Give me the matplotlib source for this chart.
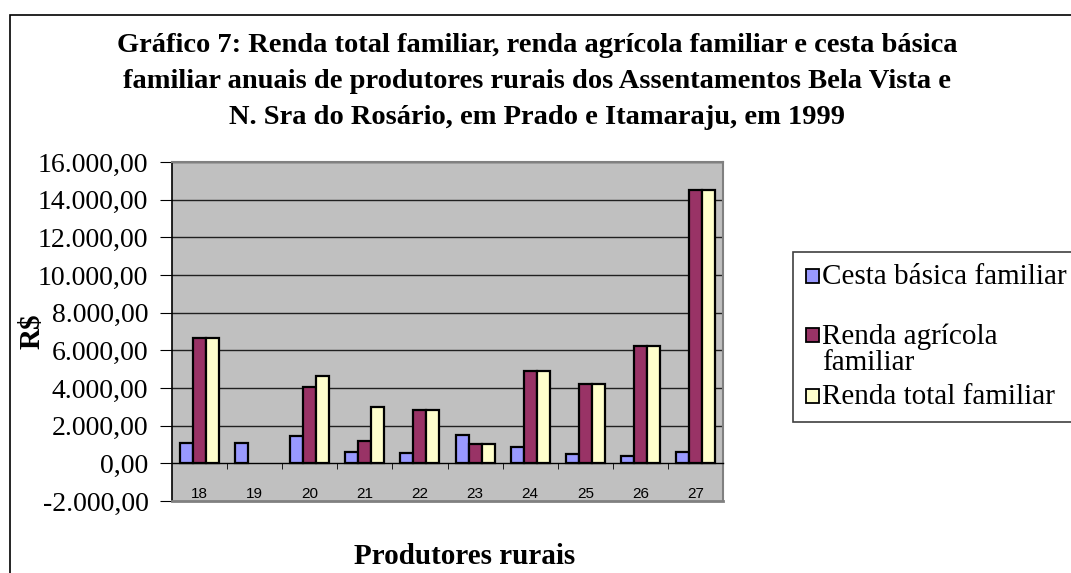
import matplotlib
matplotlib.use("Agg")
import matplotlib.pyplot as plt
from matplotlib.patches import Rectangle
from matplotlib.ticker import FuncFormatter, FixedLocator
import numpy as np

# ── data ────────────────────────────────────────────────────────────────
produtores = ["18", "19", "20", "21", "22", "23", "24", "25", "26", "27"]
cesta_basica = [1060, 1060, 1430, 580, 565, 1520, 850, 495, 390, 620]
# producer 19 has no income values
renda_agricola = [6640, None, 4030, 1180, 2845, 1040, 4890, 4190, 6220, 14520]
renda_total = [6640, None, 4630, 2970, 2845, 1040, 4890, 4190, 6220, 14520]

series_names = ["Cesta básica familiar", "Renda agrícola\nfamiliar", "Renda total familiar"]
series_colors = ["#9999FF", "#993366", "#FFFFCC"]

title_lines = [
    "Gráfico 7: Renda total familiar, renda agrícola familiar e cesta básica",
    "familiar anuais de produtores rurais dos Assentamentos Bela Vista e",
    "N. Sra do Rosário, em Prado e Itamaraju, em 1999",
]

W, H = 1071, 573
SERIF = ["Liberation Serif", "DejaVu Serif"]
SANS = ["Liberation Sans", "DejaVu Sans"]


def px(x, y):
    """pixel (from top-left) -> figure fraction"""
    return x / W, 1 - y / H


def br_fmt(v, _pos):
    s = f"{v:,.2f}"
    return s.replace(",", "X").replace(".", ",").replace("X", ".")


def to_arr(vals):
    return np.array([np.nan if v is None else v for v in vals], dtype=float)


fig = plt.figure(figsize=(W / 100, H / 100), dpi=100)
fig.patch.set_facecolor("white")

# outer chart border (runs off right and bottom edges)
fig.patches.append(Rectangle(px(10, 700), 2, (700 - 15) / H, transform=fig.transFigure,
                             fill=False, edgecolor="black", linewidth=1.2))

l, t, r, b = 172, 162, 723, 501
ax = fig.add_axes([l / W, 1 - b / H, (r - l) / W, (b - t) / H])
ax.set_facecolor("#C0C0C0")

x = np.arange(len(produtores))
bw = 0.236
for k, (vals, col) in enumerate(zip([cesta_basica, renda_agricola, renda_total], series_colors)):
    ax.bar(x + (k - 1) * bw, to_arr(vals), width=bw, color=col, edgecolor="black",
           linewidth=1.6, zorder=3)

ax.set_xlim(-0.5, len(produtores) - 0.5)
ax.set_ylim(-2000, 16000)
ax.yaxis.set_major_locator(FixedLocator(np.arange(-2000, 16001, 2000)))
ax.yaxis.set_major_formatter(FuncFormatter(br_fmt))
for yv in range(2000, 16001, 2000):
    ax.axhline(yv, color="#202020", linewidth=1.0, zorder=1)

# category axis sits at zero
ax.spines["bottom"].set_position(("data", 0))
ax.spines["bottom"].set_color("black")
ax.spines["bottom"].set_linewidth(1.0)
ax.spines["bottom"].set_zorder(4)
ax.spines["left"].set_color("black")
ax.spines["left"].set_linewidth(1.2)
for s in ["top", "right"]:
    ax.spines[s].set_color("#808080")
    ax.spines[s].set_linewidth(1.5)
ax.axhline(-2000, color="#808080", linewidth=2.0, zorder=5, clip_on=False)

ax.set_xticks(x)
ax.set_xticklabels(produtores, fontsize=11, family=SANS)
ax.set_xticks(np.arange(0.5, len(produtores) - 0.5, 1), minor=True)
ax.tick_params(axis="x", which="major", length=0, pad=17)
ax.tick_params(axis="x", which="minor", length=4, direction="out", color="black")
ax.tick_params(axis="y", length=9, direction="out", color="black", pad=8)
for lab in ax.get_yticklabels():
    lab.set_family(SERIF)
    lab.set_fontsize(20)

# titles and axis labels
for i, line in enumerate(title_lines):
    fig.text(*px(537, 46 + i * 36), line, ha="center", va="center",
             fontsize=20.5, fontweight="bold", family=SERIF)
fig.text(*px(32, 331), "R$", rotation=90, ha="center", va="center",
         fontsize=21, fontweight="bold", family=SERIF)
fig.text(*px(465, 556), "Produtores rurais", ha="center", va="center",
         fontsize=21, fontweight="bold", family=SERIF)

# legend (box runs past the right edge)
fig.patches.append(Rectangle(px(793, 422), (1200 - 793) / W, (422 - 252) / H,
                             transform=fig.transFigure, fill=True, facecolor="white",
                             edgecolor="#404040", linewidth=1.2))
leg_y = [276, 335, 396]
for name, col, yy in zip(series_names, series_colors, leg_y):
    fig.patches.append(Rectangle(px(806, yy + 7), 13 / W, 14 / H, transform=fig.transFigure,
                                 facecolor=col, edgecolor="black", linewidth=1.3))
    fig.text(*px(822, yy - 12), name, ha="left", va="top", fontsize=21,
             family=SERIF, linespacing=1.05)

fig.savefig("out.png", dpi=100)
